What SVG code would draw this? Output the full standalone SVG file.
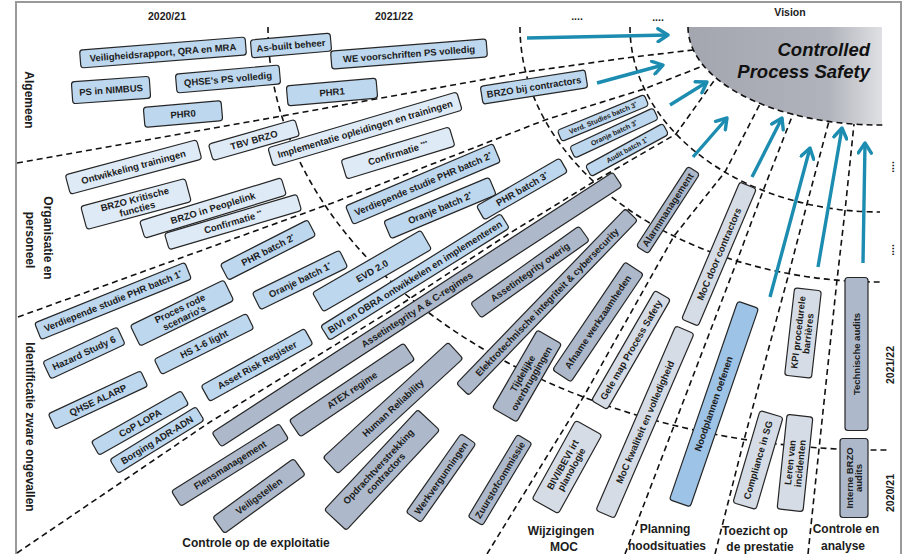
<svg xmlns="http://www.w3.org/2000/svg" width="905" height="554" viewBox="0 0 905 554">
<defs>
<linearGradient id="vg" x1="0" y1="0" x2="1" y2="0">
<stop offset="0" stop-color="#a3a6af"/>
<stop offset="0.72" stop-color="#b0b3bb"/>
<stop offset="1" stop-color="#dfe0e3"/>
</linearGradient>
<marker id="ah" markerUnits="userSpaceOnUse" viewBox="0 0 16 16" refX="13" refY="8" markerWidth="16" markerHeight="16" orient="auto">
<path d="M3,1.5 L13,8 L3,14.5" fill="none" stroke="#1c8cb0" stroke-width="3.4" stroke-linecap="round" stroke-linejoin="round"/>
</marker>
<style>
.g{fill:none;stroke:#111;stroke-width:1.6;stroke-dasharray:6 4}
.b{stroke:#262626;stroke-width:1.2}
.ca{fill:#bdd7ee}.co{fill:#deebf7}.ce{fill:#adb9ca}.cm{fill:#d6dce5}.cp{fill:#9dc3e6}
text{font-family:"Liberation Sans",Arial,sans-serif;font-weight:bold;fill:#1c1c1c}
.l{font-size:9.5px;text-anchor:middle}
.sm{font-size:7px;text-anchor:middle}
.s{font-size:6px}
.h{font-size:12px;text-anchor:middle}
.t{font-size:10.5px;text-anchor:middle}
.v{font-size:18.5px;font-style:italic;text-anchor:end;fill:#111}
.ar{fill:none;stroke:#1c8cb0;stroke-width:3.4;marker-end:url(#ah)}
</style>
</defs>
<rect width="905" height="554" fill="#fff"/>
<rect x="16" y="2" width="885" height="570" fill="none" stroke="#999" stroke-width="2"/>

<g id="vision">
<path d="M688,27 L882,27 L882,125 L880,125 A192,98 0 0 1 688,27 Z" fill="url(#vg)"/>
<text x="870" y="56" class="v">Controlled</text>
<text x="870" y="78" class="v">Process Safety</text>
</g>

<g id="grid">
<path class="g" d="M268,27 A612,423 0 0 0 880,450 L888,450"/>
<path class="g" d="M520,27 A360,255 0 0 0 880,282"/>
<path class="g" d="M630,27 A250,185 0 0 0 880,212"/>
<path class="g" d="M688,27 A192,98 0 0 0 880,125 L884,125"/>
<polyline class="g" points="17,163 282,116 525,72 633,57 693,50"/>
<polyline class="g" points="18,317 335,202 545,120 644,89 703,66"/>
<polyline class="g" points="17,553 210,422 400,305 510,233 595,181 676,134 716,78"/>
<polyline class="g" points="487,554 584,396 674,236 725,172 760,104"/>
<polyline class="g" points="625,554 737,261 763,191 793,114"/>
<polyline class="g" points="715,554 744,440 789,273 807,204 829,121"/>
<polyline class="g" points="808,554 819,449 837,280 845,211 854,124"/>
</g>

<g id="nodes">
<g id="n01" transform="translate(163 52.5) rotate(-4.5)"><rect class="b ca" x="-83" y="-9" width="166" height="18" rx="3"/><text class="l" y="3.4">Veiligheidsrapport, QRA en MRA</text></g>
<g id="n02" transform="translate(291 45.5) rotate(-5)"><rect class="b ca" x="-40" y="-9" width="80" height="18" rx="3"/><text class="l" y="3.4">As-built beheer</text></g>
<g id="n03" transform="translate(409 54) rotate(-4.5)"><rect class="b ca" x="-78" y="-9" width="156" height="18" rx="3"/><text class="l" y="3.4">WE voorschriften PS volledig</text></g>
<g id="n04" transform="translate(111 90) rotate(-4)"><rect class="b ca" x="-39" y="-11" width="78" height="22" rx="3"/><text class="l" y="3.4">PS in NIMBUS</text></g>
<g id="n05" transform="translate(228 79) rotate(-5)"><rect class="b ca" x="-52" y="-9.5" width="104" height="19" rx="3"/><text class="l" y="3.4">QHSE's PS volledig</text></g>
<g id="n06" transform="translate(183 114) rotate(-5)"><rect class="b ca" x="-39" y="-10" width="78" height="20" rx="3"/><text class="l" y="3.4">PHR0</text></g>
<g id="n07" transform="translate(332 92) rotate(-5)"><rect class="b ca" x="-45" y="-10" width="90" height="20" rx="3"/><text class="l" y="3.4">PHR1</text></g>
<g id="n08" transform="translate(534 87) rotate(-9)"><rect class="b ca" x="-53" y="-9" width="106" height="18" rx="3"/><text class="l" y="3.4">BRZO bij contractors</text></g>

<g id="n09" transform="translate(133.5 167) rotate(-15)"><rect class="b co" x="-68" y="-10" width="136" height="20" rx="3"/><text class="l" y="3.4">Ontwikkeling trainingen</text></g>
<g id="n10" transform="translate(254 140) rotate(-16)"><rect class="b co" x="-45" y="-8.5" width="90" height="17" rx="3"/><text class="l" y="3.4">TBV BRZO</text></g>
<g id="n11" transform="translate(365 129) rotate(-16.5)"><rect class="b co" x="-98.5" y="-9.5" width="197" height="19" rx="3"/><text class="l" y="3.4">Implementatie opleidingen en trainingen</text></g>
<g id="n12" transform="translate(398 153) rotate(-17)"><rect class="b co" x="-56.5" y="-10" width="113" height="20" rx="3"/><text class="l" y="3.4">Confirmatie <tspan class="s" dy="-3">***</tspan></text></g>
<g id="n13" transform="translate(136 204) rotate(-15)"><rect class="b co" x="-54" y="-12" width="108" height="24" rx="3"/><text class="l"><tspan x="0" y="-1.6">BRZO Kritische</tspan><tspan x="0" y="8.4">functies</tspan></text></g>
<g id="n14" transform="translate(213 208) rotate(-17)"><rect class="b co" x="-74" y="-9" width="148" height="18" rx="3"/><text class="l" y="3.4">BRZO in Peoplelink</text></g>
<g id="n15" transform="translate(233 222) rotate(-16.5)"><rect class="b co" x="-69" y="-8.5" width="138" height="17" rx="3"/><text class="l" y="3.4">Confirmatie <tspan class="s" dy="-3">**</tspan></text></g>

<g id="n16" transform="translate(423 184) rotate(-23)"><rect class="b ca" x="-80" y="-10" width="160" height="20" rx="3"/><text class="l" y="3.4">Verdiepende studie PHR batch 2<tspan class="s" dy="-3">*</tspan></text></g>
<g id="n17" transform="translate(440 208) rotate(-22.7)"><rect class="b ca" x="-57" y="-9.5" width="114" height="19" rx="3"/><text class="l" y="3.4">Oranje batch 2<tspan class="s" dy="-3">*</tspan></text></g>
<g id="n18" transform="translate(522 189) rotate(-30)"><rect class="b ca" x="-48" y="-8" width="96" height="16" rx="3"/><text class="l" y="3.4">PHR batch 3<tspan class="s" dy="-3">*</tspan></text></g>
<g id="n19" transform="translate(372 271) rotate(-30)"><rect class="b ca" x="-62.5" y="-11" width="125" height="22" rx="3"/><text class="l" y="3.4">EVD 2.0</text></g>
<g id="n20" transform="translate(415 277) rotate(-32)"><rect class="b ca" x="-106" y="-8.5" width="212" height="17" rx="3"/><text class="l" y="3.3" font-size="9.2">BIVI en OBRA ontwikkelen en implementeren</text></g>
<g id="n21" transform="translate(268 250) rotate(-27)"><rect class="b ca" x="-49" y="-9" width="98" height="18" rx="3"/><text class="l" y="3.4">PHR batch 2<tspan class="s" dy="-3">*</tspan></text></g>
<g id="n22" transform="translate(300 280) rotate(-26)"><rect class="b ca" x="-48.5" y="-9.5" width="97" height="19" rx="3"/><text class="l" y="3.4">Oranje batch 1<tspan class="s" dy="-3">*</tspan></text></g>
<g id="n23" transform="translate(113 301) rotate(-22)"><rect class="b ca" x="-81" y="-9" width="162" height="18" rx="3"/><text class="l" y="3.4">Verdiepende studie PHR batch 1<tspan class="s" dy="-3">*</tspan></text></g>
<g id="n24" transform="translate(182 313) rotate(-26)"><rect class="b ca" x="-52" y="-11.5" width="104" height="23" rx="3"/><text class="l"><tspan x="0" y="-1.6">Proces rode</tspan><tspan x="0" y="8.4">scenario's</tspan></text></g>
<g id="n25" transform="translate(84 353) rotate(-25)"><rect class="b ca" x="-41" y="-9.5" width="82" height="19" rx="3"/><text class="l" y="3.4">Hazard Study 6</text></g>
<g id="n26" transform="translate(204 344) rotate(-26.5)"><rect class="b ca" x="-51.5" y="-8.5" width="103" height="17" rx="3"/><text class="l" y="3.4">HS 1-6 light</text></g>
<g id="n27" transform="translate(98 400) rotate(-25)"><rect class="b ca" x="-51" y="-8.5" width="102" height="17" rx="3"/><text class="l" y="3.4">QHSE ALARP</text></g>
<g id="n28" transform="translate(140 423) rotate(-29.5)"><rect class="b ca" x="-51.5" y="-8" width="103" height="16" rx="3"/><text class="l" y="3.4">CoP LOPA</text></g>
<g id="n29" transform="translate(157 440) rotate(-31.6)"><rect class="b ca" x="-50.5" y="-8" width="101" height="16" rx="3"/><text class="l" y="3.4">Borging ADR-ADN</text></g>
<g id="n30" transform="translate(257 365) rotate(-29)"><rect class="b ca" x="-59" y="-9" width="118" height="18" rx="3"/><text class="l" y="3.4">Asset Risk Register</text></g>
<g id="n31" transform="translate(603 118) rotate(-22.5)"><rect class="b ca" x="-47" y="-6" width="94" height="12" rx="3"/><text class="sm" y="2.5">Verd. Studies batch 3<tspan font-size="5" dy="-2">*</tspan></text></g>
<g id="n32" transform="translate(614 133) rotate(-25)"><rect class="b ca" x="-46" y="-6.25" width="92" height="12.5" rx="3"/><text class="sm" y="2.5">Oranje batch 3<tspan font-size="5" dy="-2">*</tspan></text></g>
<g id="n33" transform="translate(627 150) rotate(-28.6)"><rect class="b ca" x="-44" y="-6.25" width="88" height="12.5" rx="3"/><text class="sm" y="2.5">Audit batch 1<tspan font-size="5" dy="-2">*</tspan></text></g>

<g id="n34" transform="translate(417 309.5) rotate(-33)"><rect class="b ce" x="-239" y="-8.5" width="478" height="17" rx="3"/><text class="l" y="3.4">Assetintegrity A &amp; C-regimes</text></g>
<g id="n35" transform="translate(530 272) rotate(-35.5)"><rect class="b ce" x="-66.5" y="-9" width="133" height="18" rx="3"/><text class="l" y="3.4">Assetintegrity overig</text></g>
<g id="n36" transform="translate(547 302) rotate(-46)"><rect class="b ce" x="-121.5" y="-8.5" width="243" height="17" rx="3"/><text class="l" y="3.4">Elektrotechnische integriteit &amp; cybersecurity</text></g>
<g id="n37" transform="translate(668 210) rotate(-57)"><rect class="b ce" x="-47.5" y="-7" width="95" height="14" rx="3"/><text class="l" y="3.1" font-size="8.8">Alarmmanagement</text></g>
<g id="n38" transform="translate(598 322) rotate(-56)"><rect class="b ce" x="-65" y="-11" width="130" height="22" rx="3"/><text class="l" y="3.2" font-size="9">Afname werkzaamheden</text></g>
<g id="n39" transform="translate(527 376) rotate(-60)"><rect class="b ce" x="-45" y="-14" width="90" height="28" rx="3"/><text class="l"><tspan x="0" y="-1.6">Tijdelijke</tspan><tspan x="0" y="8.4">overbruggingen</tspan></text></g>
<g id="n40" transform="translate(230 465) rotate(-32)"><rect class="b ce" x="-63.5" y="-9" width="127" height="18" rx="3"/><text class="l" y="3.4">Flensmanagement</text></g>
<g id="n41" transform="translate(259 496) rotate(-36)"><rect class="b ce" x="-50" y="-10" width="100" height="20" rx="3"/><text class="l" y="3.4">Veiligstellen</text></g>
<g id="n42" transform="translate(352 390) rotate(-34)"><rect class="b ce" x="-69" y="-10" width="138" height="20" rx="3"/><text class="l" y="3.4">ATEX regime</text></g>
<g id="n43" transform="translate(393 408) rotate(-42.6)"><rect class="b ce" x="-85" y="-11" width="170" height="22" rx="3"/><text class="l" y="3.4">Human Reliability</text></g>
<g id="n44" transform="translate(382 470) rotate(-47)"><rect class="b ce" x="-68.5" y="-15" width="137" height="30" rx="3"/><text class="l"><tspan x="0" y="-1.6">Opdrachtverstrekking</tspan><tspan x="0" y="8.4">contractors</tspan></text></g>
<g id="n45" transform="translate(441 478) rotate(-55)"><rect class="b ce" x="-48" y="-9" width="96" height="18" rx="3"/><text class="l" y="3.4">Werkvergunningen</text></g>
<g id="n46" transform="translate(500 480) rotate(-59)"><rect class="b ce" x="-48" y="-8.5" width="96" height="17" rx="3"/><text class="l" y="3.4">Zuurstofcommissie</text></g>

<g id="n47" transform="translate(567 467) rotate(-61)"><rect class="b cm" x="-45" y="-15" width="90" height="30" rx="3"/><text class="l"><tspan x="0" y="-1.6">BIVI/BEVI irt</tspan><tspan x="0" y="8.4">planologie</tspan></text></g>
<g id="n48" transform="translate(645 422) rotate(-66.6)"><rect class="b cm" x="-100.5" y="-10" width="201" height="20" rx="3"/><text class="l" y="3.4">MoC kwaliteit en volledigheid</text></g>
<g id="n49" transform="translate(631 350) rotate(-60)"><rect class="b cm" x="-63.5" y="-9" width="127" height="18" rx="3"/><text class="l" y="3.4">Gele map Process Safety</text></g>
<g id="n50" transform="translate(719 254) rotate(-67)"><rect class="b cm" x="-74.5" y="-9" width="149" height="18" rx="3"/><text class="l" y="3.4">MoC door contractors</text></g>
<g id="n51" transform="translate(714 404) rotate(-71)"><rect class="b cp" x="-105" y="-11" width="210" height="22" rx="3"/><text class="l" y="2.8" font-size="8">Noodplannen oefenen</text></g>
<g id="n52" transform="translate(803 333) rotate(-83.5)"><rect class="b cm" x="-44" y="-13.5" width="88" height="27" rx="3"/><text class="l"><tspan x="0" y="-1.6">KPI procedurele</tspan><tspan x="0" y="8.4">barrières</tspan></text></g>
<g id="n53" transform="translate(758 460) rotate(-73.6)"><rect class="b cm" x="-48" y="-12" width="96" height="24" rx="3"/><text class="l" y="3.4">Compliance in SG</text></g>
<g id="n54" transform="translate(795 463) rotate(-84)"><rect class="b cm" x="-47.5" y="-13" width="95" height="26" rx="3"/><text class="l"><tspan x="0" y="-1.6">Leren van</tspan><tspan x="0" y="8.4">incidenten</tspan></text></g>
<g id="n55" transform="translate(856.5 354) rotate(-90)"><rect class="b ce" x="-76.5" y="-11.5" width="153" height="23" rx="3"/><text class="l" y="3.4">Technische audits</text></g>
<g id="n56" transform="translate(854 478) rotate(-90)"><rect class="b ce" x="-39.5" y="-14" width="79" height="28" rx="3"/><text class="l" font-size="8.5"><tspan x="0" y="-1.4">Interne BRZO</tspan><tspan x="0" y="7.8">audits</tspan></text></g>
</g>

<g id="connectors">
<line class="ar" x1="527" y1="38" x2="668" y2="35"/>
<line class="ar" x1="597" y1="83" x2="663" y2="65"/>
<line class="ar" x1="670" y1="105" x2="707" y2="82"/>
<line class="ar" x1="693" y1="157" x2="727" y2="118"/>
<line class="ar" x1="752" y1="177" x2="782" y2="118"/>
<line class="ar" x1="770" y1="297" x2="810" y2="148"/>
<line class="ar" x1="818" y1="267" x2="842" y2="128"/>
<line class="ar" x1="863" y1="263" x2="865" y2="143"/>
</g>

<g id="labels">
<text class="t" x="167" y="20">2020/21</text>
<text class="t" x="394" y="20">2021/22</text>
<text class="t" x="577" y="20">....</text>
<text class="t" x="658" y="21">....</text>
<text class="t" x="790" y="16" font-size="10">Vision</text>
<text class="h" transform="translate(24.5 100) rotate(90)">Algemeen</text>
<text class="h" transform="translate(43.5 238) rotate(90)">Organisatie en</text>
<text class="h" transform="translate(25.5 240) rotate(90)">personeel</text>
<text class="h" transform="translate(25.5 427) rotate(90)">Identificatie zware ongevallen</text>
<text class="t" transform="translate(894 167) rotate(-90)">....</text>
<text class="t" transform="translate(894 250) rotate(-90)">....</text>
<text class="t" transform="translate(894 365) rotate(-90)">2021/22</text>
<text class="t" transform="translate(894 493) rotate(-90)">2020/21</text>
<text class="h" x="256" y="547">Controle op de exploitatie</text>
<text class="h" x="561" y="535">Wijzigingen</text>
<text class="h" x="564" y="551">MOC</text>
<text class="h" x="665" y="533">Planning</text>
<text class="h" x="667" y="550">noodsituaties</text>
<text class="h" x="755" y="535">Toezicht op</text>
<text class="h" x="760" y="551">de prestatie</text>
<text class="h" x="846" y="533">Controle en</text>
<text class="h" x="843" y="550">analyse</text>
</g>
</svg>
